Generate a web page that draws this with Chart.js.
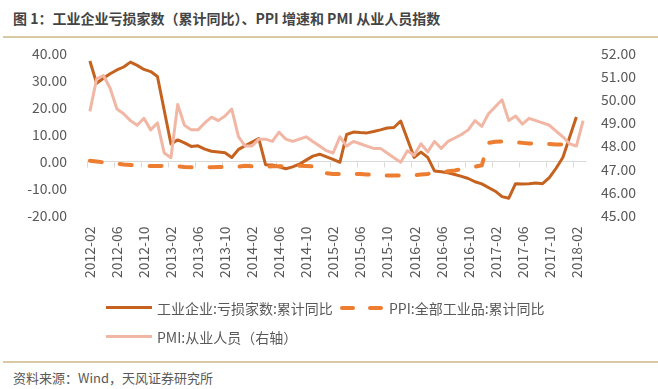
<!DOCTYPE html>
<html><head><meta charset="utf-8">
<script src="https://cdn.jsdelivr.net/npm/chart.js@4/dist/chart.umd.min.js"></script>
<style>
html,body{margin:0;padding:0;background:#fff;}
body{width:658px;height:389px;position:relative;overflow:hidden;font-family:"Noto Sans CJK SC","Noto Sans",sans-serif;}
#title{position:absolute;left:13px;top:8px;font-size:14px;font-weight:bold;color:#444;white-space:nowrap;line-height:20px;}
.rule{position:absolute;left:3px;right:0;background:#d8c9a2;}
#wrap{position:absolute;left:0;top:0;width:658px;height:300px;}
.leg{position:absolute;font-size:14px;color:#595959;white-space:nowrap;line-height:18px;}
.sw{position:absolute;height:3px;}
#foot{position:absolute;left:13px;top:369px;font-size:13px;color:#595959;line-height:17px;white-space:nowrap;}
</style></head><body>
<div id="title">图 1：工业企业亏损家数（累计同比）、PPI 增速和 PMI 从业人员指数</div>
<div class="rule" style="top:36px;height:2px;"></div>
<div id="wrap"><canvas id="c" width="658" height="300"></canvas></div>
<div class="sw" style="left:106px;top:306px;width:46px;background:#C5621F;"></div>
<div class="leg" style="left:157px;top:299px;">工业企业:亏损家数:累计同比</div>
<div class="sw" style="left:340px;top:306px;width:15px;height:4px;border-radius:2px;background:#ED7D31;"></div>
<div class="sw" style="left:368px;top:306px;width:15px;height:4px;border-radius:2px;background:#ED7D31;"></div>
<div class="leg" style="left:389px;top:299px;">PPI:全部工业品:累计同比</div>
<div class="sw" style="left:106px;top:335px;width:46px;background:#F2B6A4;"></div>
<div class="leg" style="left:157px;top:328px;">PMI:从业人员（右轴）</div>
<div class="rule" style="top:361px;height:2px;"></div>
<div id="foot">资料来源：Wind，天风证券研究所</div>
<script>
const categories = [
"2012-02","2012-03","2012-04","2012-05","2012-06","2012-07","2012-08","2012-09","2012-10","2012-11","2012-12",
"2013-01","2013-02","2013-03","2013-04","2013-05","2013-06","2013-07","2013-08","2013-09","2013-10","2013-11","2013-12",
"2014-01","2014-02","2014-03","2014-04","2014-05","2014-06","2014-07","2014-08","2014-09","2014-10","2014-11","2014-12",
"2015-01","2015-02","2015-03","2015-04","2015-05","2015-06","2015-07","2015-08","2015-09","2015-10","2015-11","2015-12",
"2016-01","2016-02","2016-03","2016-04","2016-05","2016-06","2016-07","2016-08","2016-09","2016-10","2016-11","2016-12",
"2017-01","2017-02","2017-03","2017-04","2017-05","2017-06","2017-07","2017-08","2017-09","2017-10","2017-11","2017-12",
"2018-01","2018-02","2018-03"];

// 工业企业:亏损家数:累计同比 (%), January not published
const lossYoY = [
37.2,29.0,30.8,32.5,33.9,35.0,36.8,35.6,34.1,33.3,31.5,
null,6.5,8.0,6.9,5.6,5.8,4.6,3.8,3.5,3.2,1.5,4.5,
null,7.2,8.5,-1.2,-1.3,-2.0,-2.7,-2.0,-1.0,0.5,2.0,2.7,
null,0.8,-0.3,10.0,10.9,10.7,10.6,11.1,11.7,12.4,12.6,15.0,
null,1.5,3.5,1.5,-3.5,-3.8,-4.2,-4.8,-5.5,-6.3,-7.5,-8.3,
null,-11.0,-13.0,-13.6,-8.2,-8.3,-8.2,-8.0,-8.2,-6.0,-2.5,1.5,
null,16.5,null];

// PPI:全部工业品:累计同比 (%)
const ppiYoY = [
0.3,0.0,-0.3,-0.6,-0.8,-1.1,-1.3,-1.5,-1.6,-1.7,-1.7,
-1.6,-1.7,-1.8,-2.0,-2.1,-2.2,-2.2,-2.1,-2.0,-2.0,-1.9,-1.9,
-1.6,-1.8,-1.9,-1.9,-1.8,-1.8,-1.7,-1.6,-1.6,-1.7,-1.8,-1.9,
-4.3,-4.6,-4.6,-4.6,-4.6,-4.6,-4.8,-5.0,-5.1,-5.2,-5.2,-5.2,
-5.3,-5.1,-4.8,-4.6,-4.3,-3.9,-3.6,-3.3,-2.9,-2.4,-1.9,-1.4,
6.9,7.3,7.4,7.3,7.1,6.9,6.7,6.6,6.5,6.5,6.3,6.3,
4.3,4.0,null];

// PMI:从业人员 (右轴)
const pmiEmp = [
49.5,50.9,51.05,50.5,49.6,49.4,49.1,48.9,49.2,48.7,49.0,
47.7,47.5,49.8,48.9,48.7,48.7,49.0,49.25,49.1,49.3,49.6,48.4,
48.0,48.0,48.3,48.3,48.2,48.6,48.3,48.2,48.3,48.4,48.2,48.0,
47.8,47.7,48.4,48.0,48.2,48.1,48.0,47.9,47.9,47.7,47.5,47.3,
47.8,47.6,48.1,47.75,48.2,47.9,48.2,48.35,48.5,48.7,49.1,48.85,
49.4,49.7,50.0,49.1,49.3,48.95,49.2,49.1,49.0,48.9,48.65,48.4,
48.1,48.0,49.1];

const leftTicks = [-20,-10,0,10,20,30,40];
const rightTicks = [45,46,47,48,49,50,51,52];

const FONT = '"Noto Sans CJK SC","Noto Sans",sans-serif';
const TXT = '#595959';

const zeroTicks = {
  id:'zeroTicks',
  beforeDatasetsDraw(chart){
    const xs = chart.scales.x, ys = chart.scales.y;
    const y0 = Math.round(ys.getPixelForValue(0)) + 0.5;
    const half = (xs.right - xs.left) / categories.length / 2;
    const c = chart.ctx;
    c.save(); c.strokeStyle = '#d9d9d9'; c.lineWidth = 1; c.beginPath();
    for (let i = 0; i < categories.length; i += 4) {
      const x = Math.round(xs.getPixelForValue(i) - half) + 0.5;
      c.moveTo(x, y0); c.lineTo(x, y0 + 5);
    }
    c.stroke(); c.restore();
  }
};

new Chart(document.getElementById('c'), {
  type:'line',
  data:{
    labels:categories,
    datasets:[
      {label:'工业企业:亏损家数:累计同比', data:lossYoY, yAxisID:'y', borderColor:'#C5621F', borderWidth:3, pointRadius:0, spanGaps:true, tension:0, order:2, borderJoinStyle:'round'},
      {label:'PPI:全部工业品:累计同比', data:ppiYoY, yAxisID:'y', borderColor:'#ED7D31', borderWidth:4, borderDash:[12,18], borderCapStyle:'round', pointRadius:0, tension:0, order:1},
      {label:'PMI:从业人员（右轴）', data:pmiEmp, yAxisID:'y1', borderColor:'#F2B6A4', borderWidth:3, pointRadius:0, tension:0, order:0, borderJoinStyle:'round'}
    ]
  },
  options:{
    responsive:false, animation:false, devicePixelRatio:1,
    layout:{padding:{left:0,right:0,top:53.5,bottom:0}},
    plugins:{legend:{display:false}, tooltip:{enabled:false}},
    scales:{
      x:{
        type:'category', offset:true,
        grid:{display:false, drawTicks:false, offset:true},
        border:{display:false},
        ticks:{autoSkip:false, maxRotation:90, minRotation:90, padding:11, color:TXT, font:{family:FONT,size:14},
          callback:(v,i)=> i % 4 === 0 ? categories[i] : ''},
        afterFit:s=>{ s.height = 84.5; }
      },
      y:{
        position:'left', min:-20, max:40,
        afterBuildTicks:s=>{ s.ticks = leftTicks.map(v=>({value:v})); },
        ticks:{padding:19.5, color:TXT, font:{family:FONT,size:14}, callback:v=>Number(v).toFixed(2)},
        grid:{drawTicks:false, lineWidth:1, color:c=> c.tick && c.tick.value === 0 ? '#d9d9d9' : 'rgba(0,0,0,0)'},
        border:{display:false},
        afterFit:s=>{ s.width = 86.5; }
      },
      y1:{
        position:'right', min:45, max:52,
        afterBuildTicks:s=>{ s.ticks = rightTicks.map(v=>({value:v})); },
        ticks:{padding:14.5, color:TXT, font:{family:FONT,size:14}, callback:v=>Number(v).toFixed(2)},
        grid:{display:false, drawTicks:false},
        border:{display:false},
        afterFit:s=>{ s.width = 71.5; }
      }
    }
  },
  plugins:[zeroTicks]
});
</script>
</body></html>
